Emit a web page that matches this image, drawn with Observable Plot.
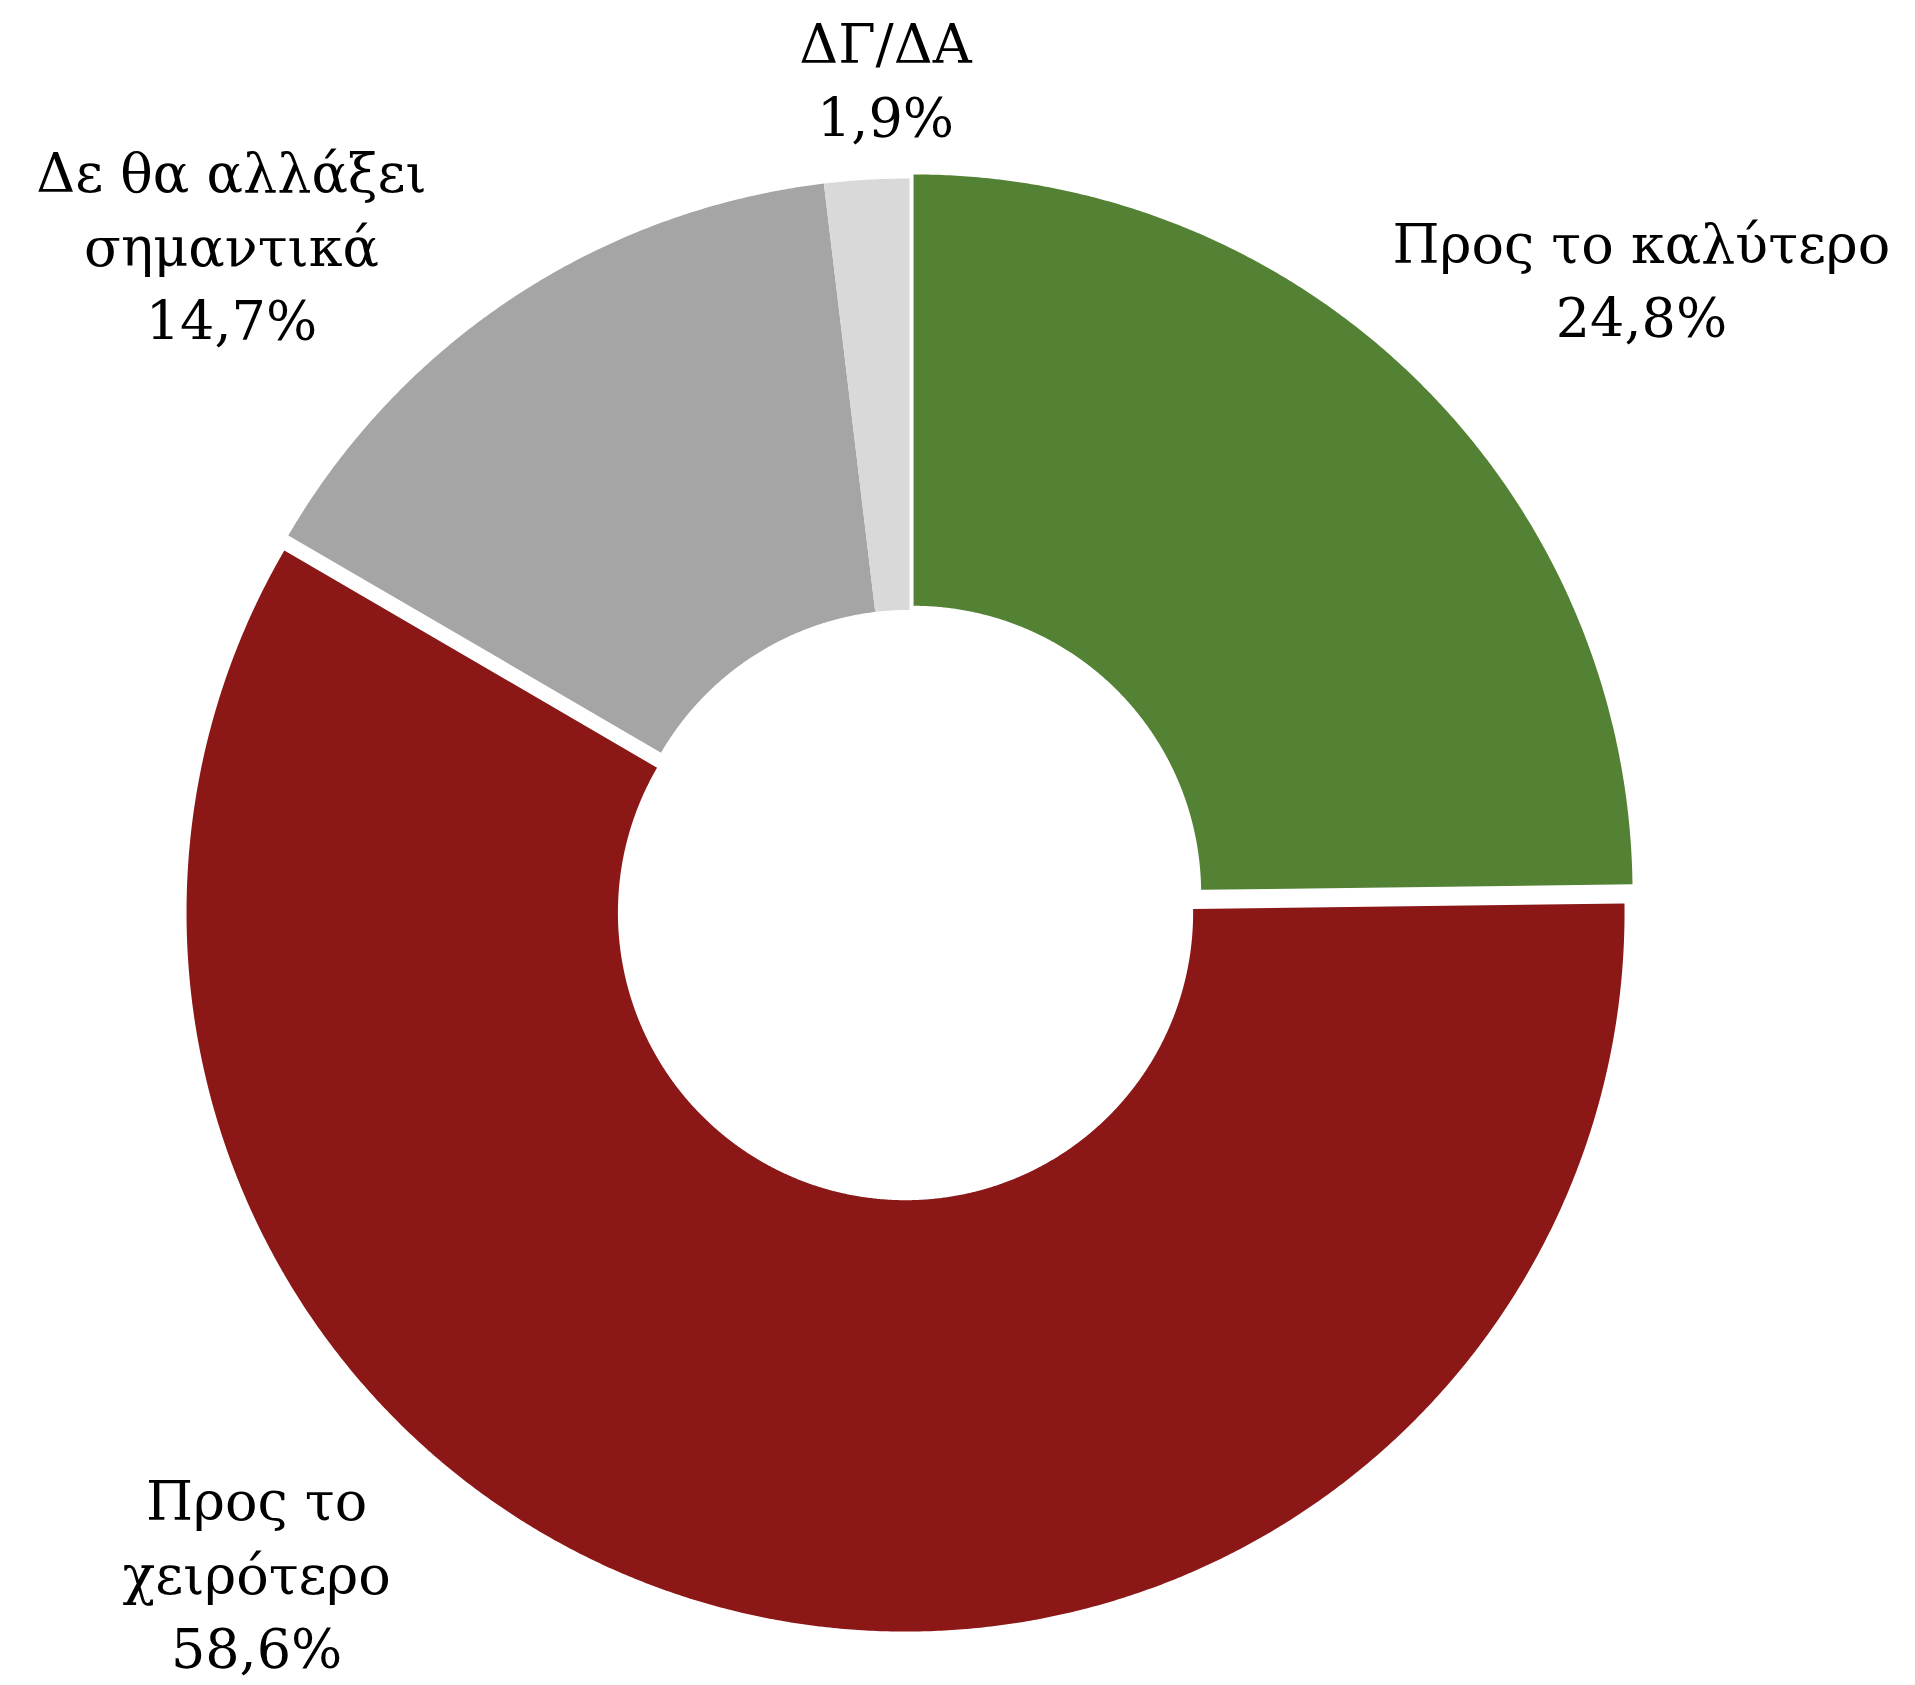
<!DOCTYPE html>
<html>
<head>
<meta charset="utf-8">
<script src="https://cdn.jsdelivr.net/npm/d3@7"></script>
<script src="https://cdn.jsdelivr.net/npm/@observablehq/plot@0.6"></script>
<style>
  html, body { margin: 0; padding: 0; background: #ffffff; overflow: hidden; }
  #chart svg { display: block; }
</style>
</head>
<body>
<div id="chart"></div>
<script>
// ---- data ----
const categories = ["Προς το καλύτερο", "Προς το χειρότερο", "Δε θα αλλάξει σημαντικά", "ΔΓ/ΔΑ"];
const values = [24.8, 58.6, 14.7, 1.9];
const labelLines = ["Προς το καλύτερο", "Προς το\nχειρότερο", "Δε θα αλλάξει\nσημαντικά", "ΔΓ/ΔΑ"];

// ---- styles / layout ----
const colors = ["#548235", "#8B1717", "#A5A5A5", "#D9D9D9"];
const explode = [0.008, 0.0217, 0, 0];            // offset along bisector, in outer-radius units
const labelAnchor = [[1.018, 0.779], [-0.908, -1.071], [-0.943, 0.776], [-0.0334, 1.058]]; // chart units (last baseline)
const W = 1915, H = 1685, CX = 909, CY = 897, R = 719, HOLE = 0.4;
const FONT = "'Roboto Slab', 'DejaVu Serif', serif";

// ---- geometry from data ----
const arcs = d3.pie().sort(null).value(d => d)(values);
const pts = [];
arcs.forEach((a, i) => {
  const mid = (a.startAngle + a.endAngle) / 2;
  const ox = explode[i] * Math.sin(mid), oy = explode[i] * Math.cos(mid);
  const n = Math.max(8, Math.ceil((a.endAngle - a.startAngle) / 0.005));
  for (let k = 0; k <= n; k++) {
    const t = a.startAngle + (a.endAngle - a.startAngle) * k / n;
    pts.push({cat: categories[i], x: ox + Math.sin(t), y: oy + Math.cos(t)});
  }
  for (let k = n; k >= 0; k--) {
    const t = a.startAngle + (a.endAngle - a.startAngle) * k / n;
    pts.push({cat: categories[i], x: ox + HOLE * Math.sin(t), y: oy + HOLE * Math.cos(t)});
  }
});

const fmt = v => d3.format(".1f")(v).replace(".", ",") + "%";
const labels = categories.map((c, i) => ({
  text: labelLines[i] + "\n" + fmt(values[i]),
  x: labelAnchor[i][0],
  y: labelAnchor[i][1]
}));

const chart = Plot.plot({
  width: W,
  height: H,
  margin: 0,
  style: {background: "#ffffff", fontFamily: FONT},
  x: {domain: [-1, 1], range: [CX - R, CX + R], axis: null},
  y: {domain: [-1, 1], range: [CY + R, CY - R], axis: null},
  color: {domain: categories, range: colors},
  marks: [
    Plot.line(pts, {x: "x", y: "y", z: "cat", fill: "cat", stroke: "none", curve: "linear-closed"}),
    Plot.text(labels, {
      x: "x", y: "y", text: "text",
      fontSize: 54, lineHeight: 1.37, lineAnchor: "bottom", textAnchor: "middle",
      fill: "#000000", fontFamily: FONT
    })
  ]
});
document.getElementById("chart").appendChild(chart);
</script>
</body>
</html>
